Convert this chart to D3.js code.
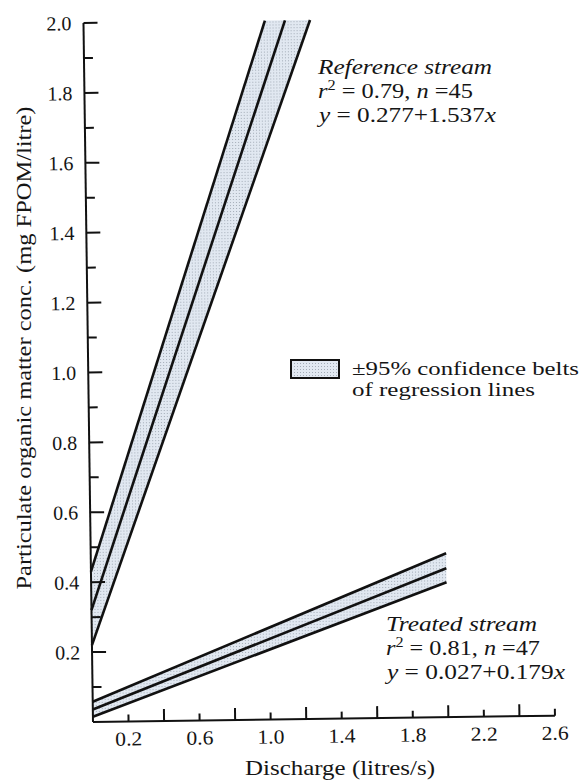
<!DOCTYPE html>
<html>
<head>
<meta charset="utf-8">
<script src="https://cdnjs.cloudflare.com/ajax/libs/d3/7.8.5/d3.min.js"></script>
<style>
  body { margin: 0; background: #fff; }
  svg { display: block; }
  text { font-family: "Liberation Serif", "Times New Roman", serif; fill: #151515; }
</style>
</head>
<body>
<div id="chart"></div>
<script>
// end points of the lines as [discharge, concentration]
var refUpper = [[0, 0.43], [1.021, 2.0]],
    refCentre = [[0, 0.32], [1.134, 2.0]],
    refLower = [[0, 0.22], [1.275, 2.0]];

var trtUpper = [[0, 0.058], [2.0, 0.469]],
    trtCentre = [[0, 0.036], [2.0, 0.426]],
    trtLower = [[0, 0.015], [2.0, 0.386]];

var yTickLabels = [0.2, 0.4, 0.6, 0.8, 1.0, 1.2, 1.4, 1.6, 1.8, 2.0];
var xTickLabels = [0.2, 0.6, 1.0, 1.4, 1.8, 2.2, 2.6];

var width = 582,
    height = 781,
    tilt = -0.78; // the scan is turned a little

var svg = d3.select('#chart')
  .append('svg')
  .attr('width', width)
  .attr('height', height);

// dotted grey-blue fill of the confidence belts
var pat = svg.append('defs').append('pattern')
  .attr('id', 'stipple')
  .attr('width', 3)
  .attr('height', 3)
  .attr('patternUnits', 'userSpaceOnUse');
pat.append('rect').attr('width', 3).attr('height', 3).attr('fill', '#e1e8f1');
pat.append('rect').attr('width', 1).attr('height', 1).attr('fill', '#a3acb7');

var x = d3.scaleLinear().domain([0, 2.6]).range([93, 555]);
var y = d3.scaleLinear().domain([0, 2.0]).range([722, 23]);

var g = svg.append('g')
  .attr('transform', 'rotate(' + tilt + ',' + x(0) + ',' + y(0) + ')');

var line = d3.line()
  .x(function(d) { return x(d[0]); })
  .y(function(d) { return y(d[1]); });

function belt(upper, centre, lower) {
  var poly = upper.concat(lower.slice().reverse());
  g.append('path')
    .attr('d', line(poly) + 'Z')
    .attr('fill', 'url(#stipple)')
    .attr('stroke', 'none');
  [upper, centre, lower].forEach(function(l) {
    g.append('path')
      .attr('d', line(l))
      .attr('fill', 'none')
      .attr('stroke', '#111')
      .attr('stroke-width', 2.6);
  });
}

belt(refUpper, refCentre, refLower);
belt(trtUpper, trtCentre, trtLower);

// axes
g.append('line')
  .attr('x1', x(0)).attr('x2', x(0))
  .attr('y1', y(0)).attr('y2', y(2.0))
  .attr('stroke', '#111').attr('stroke-width', 2);
g.append('line')
  .attr('x1', x(0)).attr('x2', x(2.6))
  .attr('y1', y(0)).attr('y2', y(0))
  .attr('stroke', '#111').attr('stroke-width', 2);

// y ticks point inward, long ones every 0.2
y.ticks(20).filter(function(v) { return v > 0; }).forEach(function(v) {
  var major = Math.round(v * 10) % 2 === 0;
  g.append('line')
    .attr('x1', x(0)).attr('x2', x(0) + (major ? 14 : 9))
    .attr('y1', y(v)).attr('y2', y(v))
    .attr('stroke', '#111').attr('stroke-width', 2);
});

// the type in the original is wider than Times, so glyphs get stretched
function wide(sel, len) {
  return sel.attr('textLength', len).attr('lengthAdjust', 'spacingAndGlyphs');
}

g.selectAll('.ylab')
  .data(yTickLabels)
  .enter()
  .append('text')
  .attr('class', 'ylab')
  .attr('x', x(0) - 12)
  .attr('y', function(d) { return y(d) + 7; })
  .attr('text-anchor', 'end')
  .attr('font-size', 20)
  .call(wide, 25)
  .text(d3.format('.1f'));

// x ticks: the labelled ones are the short ones in the original
x.ticks(13).filter(function(v) { return v > 0; }).forEach(function(v) {
  var labelled = xTickLabels.some(function(t) { return Math.abs(t - v) < 1e-6; });
  g.append('line')
    .attr('x1', x(v)).attr('x2', x(v))
    .attr('y1', y(0)).attr('y2', y(0) - (labelled ? 7 : 12))
    .attr('stroke', '#111').attr('stroke-width', 2);
});

g.selectAll('.xlab')
  .data(xTickLabels)
  .enter()
  .append('text')
  .attr('class', 'xlab')
  .attr('x', function(d) { return x(d); })
  .attr('y', 746)
  .attr('text-anchor', 'middle')
  .attr('font-size', 20)
  .call(wide, 27)
  .text(d3.format('.1f'));

// axis titles
svg.append('text')
  .attr('transform', 'translate(31,348) rotate(-90)')
  .attr('text-anchor', 'middle')
  .attr('font-size', 21)
  .call(wide, 483)
  .text('Particulate organic matter conc. (mg FPOM/litre)');

svg.append('text')
  .attr('x', 340)
  .attr('y', 775)
  .attr('text-anchor', 'middle')
  .attr('font-size', 21)
  .call(wide, 190)
  .text('Discharge (litres/s)');

// legend
svg.append('rect')
  .attr('x', 291).attr('y', 360)
  .attr('width', 48).attr('height', 18)
  .attr('fill', 'url(#stipple)')
  .attr('stroke', '#111').attr('stroke-width', 2);
svg.append('text')
  .attr('x', 352).attr('y', 375)
  .attr('font-size', 19)
  .call(wide, 227)
  .text('\u00b195% confidence belts');
svg.append('text')
  .attr('x', 352).attr('y', 396)
  .attr('font-size', 19)
  .call(wide, 183)
  .text('of regression lines');

// annotation blocks
function note(x0, y0, name, r2, n, a, b, lens) {
  svg.append('text')
    .attr('x', x0).attr('y', y0)
    .attr('font-size', 21)
    .attr('font-style', 'italic')
    .call(wide, lens[0])
    .text(name);

  var t2 = svg.append('text')
    .attr('x', x0).attr('y', y0 + 24)
    .attr('font-size', 21)
    .call(wide, lens[1]);
  t2.append('tspan').attr('font-style', 'italic').text('r');
  t2.append('tspan').attr('font-size', 14).attr('dy', -8).text('2');
  t2.append('tspan').attr('dy', 8).text(' = ' + r2 + ', ');
  t2.append('tspan').attr('font-style', 'italic').text('n');
  t2.append('tspan').text(' =' + n);

  var t3 = svg.append('text')
    .attr('x', x0 + 1).attr('y', y0 + 48)
    .attr('font-size', 21)
    .call(wide, lens[2]);
  t3.append('tspan').attr('font-style', 'italic').text('y');
  t3.append('tspan').text(' = ' + a + '+' + b);
  t3.append('tspan').attr('font-style', 'italic').text('x');
}

note(318, 74, 'Reference stream', '0.79', 45, '0.277', '1.537', [174, 155, 177]);
note(386, 631, 'Treated stream', '0.81', 47, '0.027', '0.179', [151, 154, 178]);
</script>
</body>
</html>
